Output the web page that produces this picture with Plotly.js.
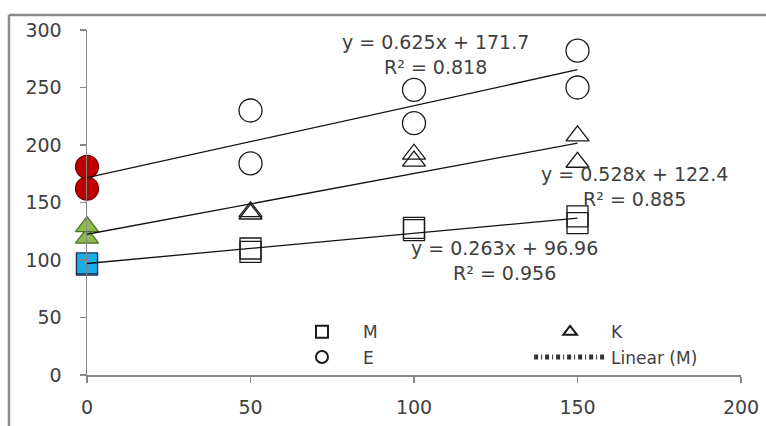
<!DOCTYPE html>
<html>
<head>
<meta charset="utf-8">
<script src="https://cdn.plot.ly/plotly-3.0.1.min.js"></script>
<style>
html,body{margin:0;padding:0;background:#fff;}
#chart{width:766px;height:426px;}
</style>
</head>
<body>
<div id="chart"></div>
<script>
// ---- data ----
const xVals = [0, 0, 50, 50, 100, 100, 150, 150];
const seriesM = [96, 97, 107, 110, 126, 128, 132, 138];
const seriesK = [119, 129, 140, 142, 186, 192, 185, 208];
const seriesE = [162, 181, 184, 230, 219, 248, 250, 282];
const seriesNames = ["M", "K", "E"];
const trendSlopes = [0.263, 0.528, 0.625];
const trendIntercepts = [96.96, 122.4, 171.7];
const trendR2 = [0.956, 0.885, 0.818];
const trendRange = [0, 150];
const xTicks = [0, 50, 100, 150, 200];
const yTicks = [0, 50, 100, 150, 200, 250, 300];

const FONT = "DejaVu Sans";
const TXT = "#404040";
const AX = "#868686";

const allSeries = [seriesM, seriesK, seriesE];
const openSymbols = ["square-open", "triangle-up-open", "circle-open"];
const filledSymbols = ["square", "triangle-up", "circle"];
const sizes = [21, 20, 23];
const fillColors = ["#17afe6", "#8dbb4c", "#c00000"];
const fillLines = ["#1b2f5a", "#4f6f28", "#7a0000"];
const legendOf = ["legend", "legend2", "legend"];

const traces = [];
// open markers (non-zero x)
allSeries.forEach((ys, i) => {
  const xs = [], yy = [];
  xVals.forEach((x, j) => { if (x !== 0) { xs.push(x); yy.push(ys[j]); } });
  traces.push({
    type: "scatter", mode: "markers", name: seriesNames[i], x: xs, y: yy,
    legend: legendOf[i], cliponaxis: false, hoverinfo: "skip",
    marker: { symbol: openSymbols[i], size: sizes[i], color: "#1a1a1a", line: { width: 1.3 } }
  });
});
// filled markers at x = 0
allSeries.forEach((ys, i) => {
  const xs = [], yy = [];
  xVals.forEach((x, j) => { if (x === 0) { xs.push(x); yy.push(ys[j]); } });
  traces.push({
    type: "scatter", mode: "markers", showlegend: false, x: xs, y: yy,
    cliponaxis: false, hoverinfo: "skip",
    marker: { symbol: filledSymbols[i], size: sizes[i], color: fillColors[i], line: { width: 1.3, color: fillLines[i] } }
  });
});
// trendlines
allSeries.forEach((ys, i) => {
  traces.push({
    type: "scatter", mode: "lines", showlegend: false,
    x: trendRange, y: trendRange.map(x => trendSlopes[i] * x + trendIntercepts[i]),
    cliponaxis: false, hoverinfo: "skip",
    line: { color: "#111", width: 1.3 }
  });
});
// legend entry for Linear (M)
traces.push({
  type: "scatter", mode: "lines", name: "Linear (M)", legend: "legend2",
  x: [null], y: [null], hoverinfo: "skip",
  line: { color: "#333", width: 1, dash: "4px,3px,1px,3px" }
});

function eqText(i) {
  return "y = " + trendSlopes[i] + "x + " + trendIntercepts[i] + "<br>R\u00b2 = " + trendR2[i];
}

const annPos = [[127.8, 99.6], [167.3, 164.3], [106.7, 278.7]];
const annotations = annPos.map((p, i) => ({
  x: p[0], y: p[1], xref: "x", yref: "y", text: eqText(i), showarrow: false,
  xanchor: "center", yanchor: "middle", align: "center",
  font: { family: FONT, size: 19, color: TXT }
}));

const legendCommon = {
  yanchor: "top", xanchor: "left", orientation: "v",
  bgcolor: "rgba(0,0,0,0)", itemwidth: 72, itemsizing: "constant", tracegroupgap: 0,
  font: { family: FONT, size: 17, color: TXT }
};

const layout = {
  width: 766, height: 426,
  margin: { l: 87, r: 25, t: 30, b: 51 },
  paper_bgcolor: "#fff", plot_bgcolor: "#fff",
  font: { family: FONT, size: 19, color: TXT },
  xaxis: {
    range: [0, 200], tickvals: xTicks, ticktext: xTicks.map(String),
    showgrid: false, zeroline: false, showline: true, linecolor: AX, linewidth: 1.5,
    ticks: "outside", ticklen: 6, tickcolor: AX, tickwidth: 1.2,
    ticklabelstandoff: 9, tickfont: { family: FONT, size: 19, color: TXT }
  },
  yaxis: {
    range: [0, 300], tickvals: yTicks, ticktext: yTicks.map(String),
    showgrid: false, zeroline: false, showline: true, linecolor: AX, linewidth: 1.5,
    ticks: "outside", ticklen: 6, tickcolor: AX, tickwidth: 1.2,
    ticklabelstandoff: 14, tickfont: { family: FONT, size: 19, color: TXT }
  },
  showlegend: true,
  legend: Object.assign({ x: 0.2966, y: 0.176 }, legendCommon),
  legend2: Object.assign({ x: 0.676, y: 0.176 }, legendCommon),
  annotations: annotations,
  shapes: [
    { type: "line", xref: "paper", yref: "paper", x0: -0.1193, x1: -0.1193, y0: -0.3, y1: 1.0435,
      line: { color: "#8a8a8a", width: 2.5 } },
    { type: "line", xref: "paper", yref: "paper", x0: -0.1193, x1: 1.2, y0: 1.0435, y1: 1.0435,
      line: { color: "#8a8a8a", width: 2.5 } }
  ]
};

Plotly.newPlot("chart", traces, layout, { displayModeBar: false, staticPlot: true });
</script>
</body>
</html>
